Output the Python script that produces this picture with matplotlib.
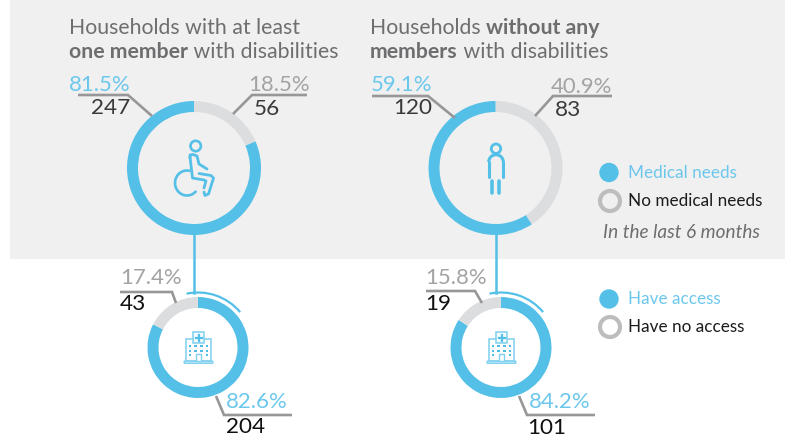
import matplotlib
matplotlib.use("Agg")
import matplotlib.pyplot as plt
from matplotlib.patches import Arc, Circle, Rectangle, FancyBboxPatch

plt.rcParams["font.family"] = ["Lato", "DejaVu Sans"]

BLUE = "#54C0E8"
LIGHT = "#DCDDDF"
TXT_BLUE = "#6CC7EC"
TXT_GREY = "#A3A3A5"
LINE = "#97979A"
DARK = "#3A3A3C"

# values
need_pct = [[81.5, 18.5], [59.1, 40.9]]
need_n = [[247, 56], [120, 83]]
access_pct = [[82.6, 17.4], [84.2, 15.8]]
access_n = [[204, 43], [101, 19]]
legend_top = ["Medical needs", "No medical needs"]
legend_bottom = ["Have access", "Have no access"]

fig = plt.figure(figsize=(7.87, 4.41), dpi=100)
ax = fig.add_axes([0, 0, 1, 1])
ax.add_patch(Rectangle((10, 0), 775, 259, fc="#F0F0F0", ec="none", zorder=0))


def donut(cx, cy, r, vals, colors):
    ax.pie(vals, colors=colors, center=(cx, cy), radius=r, startangle=-90, counterclock=True,
           frame=True, wedgeprops={"width": 11, "linewidth": 0})


def leader(xs, ys):
    ax.plot(xs, ys, color=LINE, lw=1.9, solid_joinstyle="miter", solid_capstyle="butt", zorder=1)


def label(xp, xn, pct, n, y1, y2, color, ncolor=DARK):
    ax.text(xp, y1, f"{pct}%", color=color, fontsize=15.9, ha="right", va="center")
    ax.text(xn, y2, str(n), color=ncolor, fontsize=16.2, ha="right", va="center")


def rich(x, y, parts):
    r = fig.canvas.get_renderer()
    for s, w in parts:
        t = ax.text(x, y, s, color="#6E6E70", fontsize=15.3, va="center", ha="left", fontweight=w)
        x = ax.transData.inverted().transform(t.get_window_extent(r))[1][0]


# upper donuts, grey runs clockwise from 12 o'clock
donut(194, 168, 67, need_pct[0][::-1], [LIGHT, BLUE])
donut(495.5, 168, 67, need_pct[1][::-1], [LIGHT, BLUE])
# lower donuts, blue first
donut(198, 347.5, 50.5, access_pct[0], [BLUE, LIGHT])
donut(501, 347.5, 50.5, access_pct[1], [BLUE, LIGHT])

ax.set_xlim(0, 787)
ax.set_ylim(441, 0)
ax.set_aspect("auto")

# connectors and thin arcs
for x0, x1, cx in [(194, 194, 198), (496, 496, 501)]:
    ax.plot([x0, x1], [235, 293], color=BLUE, lw=1.8, zorder=1)
    ax.add_patch(Arc((cx, 347.5), 110, 110, theta1=-102, theta2=-40, color=BLUE, lw=1.6))

leader([78, 128, 152], [95, 95, 116])
leader([233, 252, 307], [114, 95, 95])
leader([372, 428, 455], [96, 96, 118])
leader([535, 553, 612], [116, 96, 96])
leader([120, 172, 176], [292, 292, 303])
leader([216, 224, 292], [396, 415, 415])
leader([426, 475, 482], [291, 291, 303])
leader([519, 527, 595], [396, 415, 415])

label(131, 130, need_pct[0][0], need_n[0][0], 85, 108, TXT_BLUE)
label(310, 280, need_pct[0][1], need_n[0][1], 85, 109, TXT_GREY)
label(432, 432, need_pct[1][0], need_n[1][0], 85, 108, TXT_BLUE)
label(612, 581, need_pct[1][1], need_n[1][1], 87, 110, TXT_GREY)
label(182, 146, access_pct[0][1], access_n[0][1], 278, 304, TXT_GREY, "#111111")
label(288, 265, access_pct[0][0], access_n[0][0], 402, 427, TXT_BLUE, "#111111")
label(487, 451, access_pct[1][1], access_n[1][1], 278, 304, TXT_GREY, "#111111")
label(590, 566, access_pct[1][0], access_n[1][0], 402, 428, TXT_BLUE, "#111111")

# titles
rich(69, 28, [("Households with at least", "normal")])
rich(69, 52, [("one member", "bold"), (" with disabilities", "normal")])
rich(370, 28, [("Households ", "normal"), ("without any", "bold")])
rich(370, 52, [("members", "bold"), (" with disabilities", "normal")])

# legends
for y, s in [(172.5, legend_top[0]), (299, legend_bottom[0])]:
    ax.add_patch(Circle((609, y), 9.7, fc=BLUE, ec="none"))
    ax.text(628, y + 0.5, s, color=TXT_BLUE, fontsize=12.3, va="center")
for y, s in [(201, legend_top[1]), (327, legend_bottom[1])]:
    ax.add_patch(Circle((610, y), 10, fc="none", ec="#BDBDBD", lw=3))
    ax.text(628, y + 0.5, s, color="#1C1C1C", fontsize=12.3, va="center")
ax.text(603, 233, "In the last 6 months", color="#6E6E70", fontsize=13.7, style="italic", va="center")


def icon_line(xs, ys, lw=2):
    ax.plot(xs, ys, color=BLUE, lw=lw, solid_capstyle="round", solid_joinstyle="round", zorder=3)


# wheelchair
ax.add_patch(Circle((195.7, 146), 5.2, fc="none", ec=BLUE, lw=1.9))
icon_line([190, 190, 193, 197, 199, 207], [158, 155, 154.5, 156, 164, 169])
icon_line([190, 192.5, 204, 206, 204], [157, 178, 180, 181, 188])
icon_line([199, 211, 213.5, 208.5, 205, 204], [173.5, 175.5, 178, 194, 195.5, 192])
ax.add_patch(Arc((187, 183), 24, 25, theta1=40, theta2=285, color=BLUE, lw=1.9))

# person
ax.add_patch(Circle((496, 148.7), 4.7, fc="none", ec=BLUE, lw=2))
ax.add_patch(Arc((496, 162), 14.6, 14.6, theta1=180, theta2=360, color=BLUE, lw=2.2))
icon_line([488.7, 488.7], [162, 177], 2.2)
icon_line([503.3, 503.3], [162, 177], 2.2)
icon_line([491.7, 491.7], [181, 192.5], 2.6)
icon_line([499, 499], [181, 192.5], 2.6)

# hospital
for hx in [198, 501]:
    x = hx - 198
    ax.add_patch(Rectangle((x + 186, 338.5), 25, 22.5, fc="none", ec="#7FD0EE", lw=1.1, zorder=3))
    ax.add_patch(Rectangle((x + 192.6, 332), 11.7, 11, fc="#F4FBFE", ec="#7FD0EE", lw=1.1, zorder=3))
    ax.plot([x + 198.5] * 2, [334.5, 340.5], color=BLUE, lw=1.6, zorder=4)
    ax.plot([x + 195.5, x + 201.5], [337.5, 337.5], color=BLUE, lw=1.6, zorder=4)
    ax.add_patch(FancyBboxPatch((x + 184.5, 361.5), 28, 1.5, boxstyle="round,pad=0.3", fc="#D5F0FA", ec="#7FD0EE", lw=1, zorder=3))
    ax.add_patch(Rectangle((x + 196, 354), 4.7, 7, fc="white", ec="#7FD0EE", lw=1, zorder=4))
    for wy in [345, 349.5, 354]:
        for wx in [188.5, 194, 200, 205.5]:
            if wy == 354 and wx in [194, 200]:
                continue
            ax.add_patch(Rectangle((x + wx, wy), 2.6, 2.2, fc="#4DBDE8", ec="none", zorder=3))

ax.axis("off")
fig.savefig("out.png", dpi=100)
